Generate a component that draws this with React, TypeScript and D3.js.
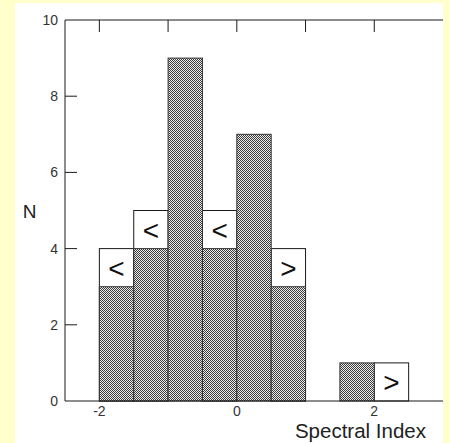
import React from "react";
import * as d3 from "d3";

const binStarts = [-2, -1.5, -1, -0.5, 0, 0.5, 1.5, 2];
const binWidth = 0.5;
const measuredCounts = [3, 4, 9, 4, 7, 3, 1, 0];
const limitCounts = [1, 1, 0, 1, 0, 1, 0, 1];
const limitSymbols = ["<", "<", "", "<", "", ">", "", ">"];
const xTickLabels = [-2, 0, 2];
const xTopTicks = [-2, -1, 0, 1, 2];
const yTickLabels = [0, 2, 4, 6, 8, 10];
const yInnerTicks = [2, 4, 6, 8];

const W = 449;
const H = 443;
const FONT = "'Liberation Sans', Arial, Helvetica, sans-serif";

export default function App() {
  const x = d3.scaleLinear().domain([-2.5, 3]).range([65, 443]);
  const y = d3.scaleLinear().domain([0, 10]).range([401, 20]);
  const ink = "#1a1a1a";

  return (
    <svg
      width={W}
      height={H}
      style={{ position: "absolute", left: 0, top: 0, display: "block" }}
    >
      <defs>
        <pattern id="dither" width="2" height="2" patternUnits="userSpaceOnUse">
          <rect width="2" height="2" fill="#eeeeee" />
          <rect x="0" y="0" width="1" height="1" fill="#3a3a3a" />
          <rect x="1" y="1" width="1" height="1" fill="#3a3a3a" />
        </pattern>
      </defs>
      <rect x={0} y={0} width={W} height={H} fill="#ffffcc" />
      <rect x={15} y={3} width={428} height={H - 3} fill="#ffffff" />

      {/* open (limit) boxes */}
      {binStarts.map((b, i) => {
        const total = measuredCounts[i] + limitCounts[i];
        if (limitCounts[i] === 0) return null;
        const x0 = x(b);
        const x1 = x(b + binWidth);
        return (
          <g key={"open" + i}>
            <rect
              x={x0}
              y={y(total)}
              width={x1 - x0}
              height={y(0) - y(total)}
              fill="#ffffff"
              stroke={ink}
              strokeWidth={1}
            />
            <text
              x={(x0 + x1) / 2}
              y={(y(total) + y(measuredCounts[i])) / 2 + 1}
              textAnchor="middle"
              dominantBaseline="central"
              fontFamily={FONT}
              fontSize={28}
              fill="#111"
            >
              {limitSymbols[i]}
            </text>
          </g>
        );
      })}

      {/* measured bars */}
      {binStarts.map((b, i) => {
        const c = measuredCounts[i];
        if (c === 0) return null;
        const x0 = x(b);
        const x1 = x(b + binWidth);
        return (
          <rect
            key={"bar" + i}
            x={x0}
            y={y(c)}
            width={x1 - x0}
            height={y(0) - y(c)}
            fill="url(#dither)"
            stroke="#333"
            strokeWidth={1}
          />
        );
      })}

      {/* axes */}
      <line x1={x(-2.5)} x2={x(3)} y1={y(10)} y2={y(10)} stroke={ink} strokeWidth={1} />
      <line x1={x(-2.5)} x2={x(3)} y1={y(0)} y2={y(0)} stroke={ink} strokeWidth={1} />
      <line x1={x(-2.5)} x2={x(-2.5)} y1={y(0)} y2={y(10)} stroke={ink} strokeWidth={1} />

      {xTopTicks.map((t) => (
        <line key={"tt" + t} x1={x(t)} x2={x(t)} y1={y(10)} y2={y(10) + 12} stroke={ink} strokeWidth={1} />
      ))}
      {yInnerTicks.map((t) => (
        <line key={"yt" + t} x1={x(-2.5)} x2={x(-2.5) + 12} y1={y(t)} y2={y(t)} stroke={ink} strokeWidth={1} />
      ))}

      {yTickLabels.map((t) => (
        <text
          key={"yl" + t}
          x={x(-2.5) - 7}
          y={y(t)}
          textAnchor="end"
          dominantBaseline="central"
          fontFamily={FONT}
          fontSize={14}
          fill="#333"
        >
          {t}
        </text>
      ))}
      {xTickLabels.map((t) => (
        <text
          key={"xl" + t}
          x={x(t)}
          y={y(0) + 10}
          textAnchor="middle"
          dominantBaseline="central"
          fontFamily={FONT}
          fontSize={14}
          fill="#333"
        >
          {t}
        </text>
      ))}

      <text
        x={29.5}
        y={y(5) + 1}
        textAnchor="middle"
        dominantBaseline="central"
        fontFamily={FONT}
        fontSize={19}
        fill="#222"
      >
        N
      </text>
      <text
        x={426}
        y={438}
        textAnchor="end"
        fontFamily={FONT}
        fontSize={20.5}
        fill="#222"
      >
        Spectral Index
      </text>
    </svg>
  );
}
